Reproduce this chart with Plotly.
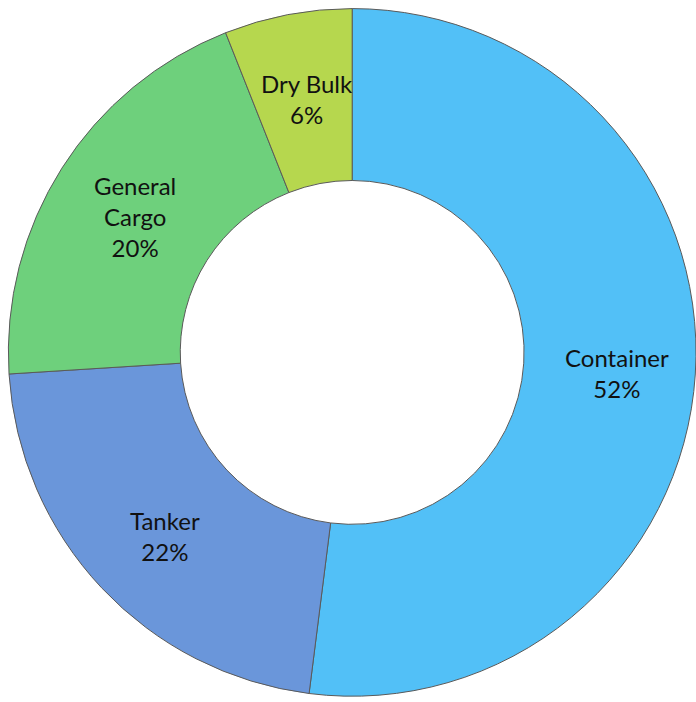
import math
import plotly.graph_objects as go

# Cargo mix by vessel type (share of total, %)
categories = ["Container", "Tanker", "General Cargo", "Dry Bulk"]
display_labels = ["Container", "Tanker", "General<br>Cargo", "Dry Bulk"]
shares = [52, 22, 20, 6]
colors = ["#52c0f7", "#6a96da", "#6ed07c", "#b6d74e"]

DOMAIN_X = [0.012, 1.0]
DOMAIN_Y = [0.003, 0.993]
W, H = 696, 702
HOLE = 0.5

fig = go.Figure(
    go.Pie(
        labels=categories,
        values=shares,
        textinfo="none",
        hole=HOLE,
        sort=False,
        direction="clockwise",
        rotation=0,
        marker=dict(colors=colors, line=dict(color="#5a5a5a", width=1)),
        domain=dict(x=DOMAIN_X, y=DOMAIN_Y),
        showlegend=False,
    )
)

# Place each label at the middle of its ring segment (clockwise from 12 o'clock)
px_w = (DOMAIN_X[1] - DOMAIN_X[0]) * W
px_h = (DOMAIN_Y[1] - DOMAIN_Y[0]) * H
radius_px = min(px_w, px_h) / 2
cx = (DOMAIN_X[0] + DOMAIN_X[1]) / 2
cy = (DOMAIN_Y[0] + DOMAIN_Y[1]) / 2
label_r = radius_px * (1 + HOLE) / 2 * 1.015

total = sum(shares)
cum = 0
for text, v in zip(display_labels, shares):
    mid = (cum + v / 2) / total * 2 * math.pi
    cum += v
    x = cx + (label_r * math.sin(mid) + 4) / W
    y = cy + (label_r * math.cos(mid) - 4) / H
    pct = round(100 * v / total)
    fig.add_annotation(
        x=x, y=y, xref="paper", yref="paper",
        text=f"{text}<br>{pct}%",
        showarrow=False,
        font=dict(family="Lato", size=24, color="#111111"),
        xanchor="center", yanchor="middle",
    )

fig.update_layout(
    width=W,
    height=H,
    margin=dict(l=0, r=0, t=0, b=0),
    paper_bgcolor="white",
    plot_bgcolor="white",
)

fig.write_html("out.html")
